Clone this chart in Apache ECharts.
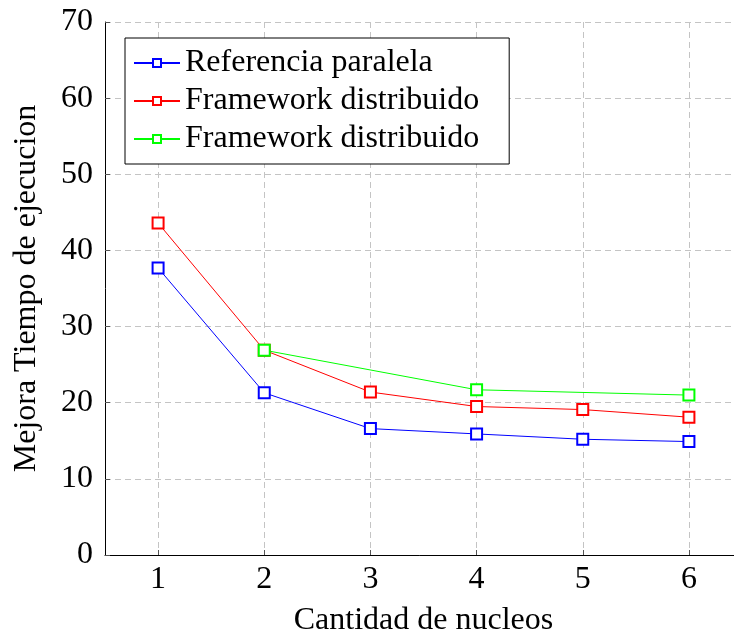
<!DOCTYPE html>
<html>
<head>
<meta charset="utf-8">
<script src="https://cdn.jsdelivr.net/npm/echarts@6/dist/echarts.min.js"></script>
<style>html,body{margin:0;padding:0;background:#fff;}#c{width:734px;height:635px;}</style>
</head>
<body>
<div id="c"></div>
<script>
const categories = ['1', '2', '3', '4', '5', '6'];
const referenciaParalela = [37.7, 21.3, 16.6, 15.9, 15.2, 14.9];
const frameworkRojo = [43.6, 26.9, 21.4, 19.5, 19.1, 18.1];
const frameworkVerde = [null, 26.9, null, 21.7, null, 21.0];
const yTicks = { min: 0, max: 70, interval: 10 };
const seriesNames = ['Referencia paralela', 'Framework distribuido', 'Framework distribuido '];

const FONT = 'Liberation Serif';
const FS = 32;
const chart = echarts.init(document.getElementById('c'), null, { renderer: 'canvas' });

function mk(name, data, color) {
  return {
    name: name, type: 'line', data: data, connectNulls: true,
    symbol: 'emptyRect', symbolSize: 11, showAllSymbol: true,
    lineStyle: { color: color, width: 1 },
    itemStyle: { color: color, borderColor: color, borderWidth: 1 },
    emphasis: { disabled: true }, animation: false
  };
}

chart.setOption({
  animation: false,
  textStyle: { fontFamily: FONT },
  grid: { left: 105, top: 22, width: 637, height: 533, containLabel: false, outerBoundsMode: 'none' },
  legend: {
    orient: 'vertical', left: 125, top: 38,
    padding: [6, 30, 6, 8],
    borderColor: '#000', borderWidth: 1, backgroundColor: '#fff',
    itemWidth: 46, itemHeight: 10, itemGap: 0,
    textStyle: { fontFamily: FONT, fontSize: FS, color: '#000', lineHeight: 38 },
    data: seriesNames.map(n => ({ name: n })),
    formatter: n => n.trim()
  },
  xAxis: {
    type: 'category', data: categories, boundaryGap: true,
    name: 'Cantidad de nucleos', nameLocation: 'middle', nameGap: 50,
    nameTextStyle: { fontFamily: FONT, fontSize: FS, color: '#000' },
    axisLine: { lineStyle: { color: '#000', width: 1 } },
    axisTick: { show: true, alignWithLabel: true, inside: true, length: 5, lineStyle: { color: '#555' } },
    axisLabel: { fontFamily: FONT, fontSize: FS, color: '#000', margin: 9 },
    splitLine: { show: true, alignWithLabel: true, lineStyle: { color: '#c4c4c4', type: [6, 4], width: 1 } }
  },
  yAxis: {
    type: 'value', min: yTicks.min, max: yTicks.max, interval: yTicks.interval,
    name: 'Mejora Tiempo de ejecucion', nameLocation: 'middle', nameGap: 62, nameRotate: 90,
    nameTextStyle: { fontFamily: FONT, fontSize: FS, color: '#000' },
    axisLine: { show: true, lineStyle: { color: '#000', width: 1 } },
    axisTick: { show: true, inside: true, length: 5, lineStyle: { color: '#555' } },
    axisLabel: { fontFamily: FONT, fontSize: FS, color: '#000', margin: 12 },
    splitLine: { show: true, lineStyle: { color: '#c4c4c4', type: [6, 4], width: 1 } }
  },
  series: [
    mk(seriesNames[0], referenciaParalela, '#0000ff'),
    mk(seriesNames[1], frameworkRojo, '#ff0000'),
    mk(seriesNames[2], frameworkVerde, '#00ff00')
  ]
});
</script>
</body>
</html>
